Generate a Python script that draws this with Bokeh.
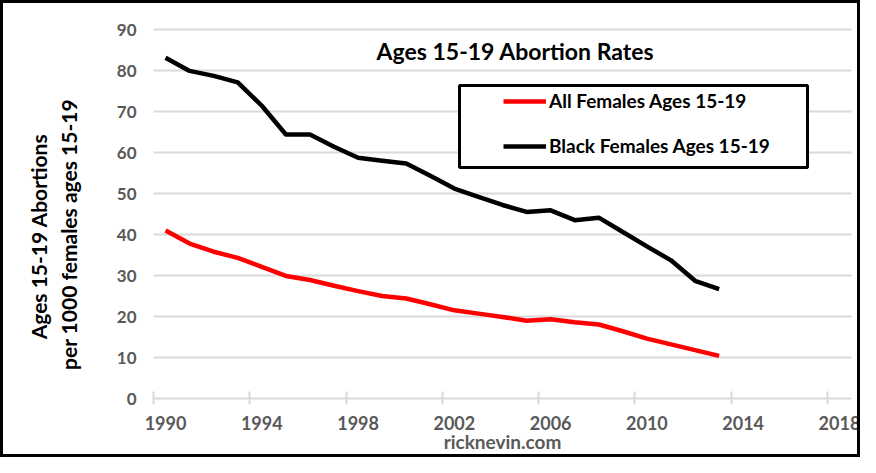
import math
from bokeh.plotting import figure
from bokeh.models import (Range1d, FixedTicker, Legend, Label, LegendItem,
                          BoxAnnotation, InlineStyleSheet)
from bokeh.embed import file_html
from bokeh.resources import INLINE

# ---- data ----
years = list(range(1990, 2014))
all_females = [41.0, 37.8, 35.8, 34.3, 32.1, 29.9, 28.9, 27.5, 26.2, 25.0,
               24.4, 23.0, 21.5, 20.7, 19.9, 18.95, 19.35, 18.6, 18.05, 16.4,
               14.6, 13.2, 11.8, 10.4]
black_females = [83.1, 79.9, 78.7, 77.1, 71.4, 64.4, 64.4, 61.4, 58.7, 58.0,
                 57.3, 54.3, 51.2, 49.2, 47.2, 45.5, 45.9, 43.5, 44.1, 40.6,
                 37.1, 33.7, 28.7, 26.7]
x_tick_years = [1990, 1994, 1998, 2002, 2006, 2010, 2014, 2018]
y_ticks = [0, 10, 20, 30, 40, 50, 60, 70, 80, 90]
series_names = ["All Females Ages 15-19", "Black Females Ages 15-19"]
title_text = "Ages 15-19 Abortion Rates"
y_label_lines = ["Ages 15-19 Abortions", "per 1000 females ages 15-19"]
x_label_text = "ricknevin.com"

FONT = "Lato"
GRAY = "#595959"
GRID = "#d9d9d9"

# ---- layout (pixels) ----
W, H = 860, 457
PL, PR, PT, PB = 153, 851, 29, 398      # plot-area edges inside the figure

x0, x1 = years[0] - 0.5, x_tick_years[-1] + 0.5   # category axis extent
y0, y1 = y_ticks[0], y_ticks[-1]
ppx = (PR - PL) / (x1 - x0)
ppy = (PB - PT) / (y1 - y0)

p = figure(width=W, height=H, output_backend="svg", toolbar_location=None,
           x_range=Range1d(x0 - PL / ppx, x1 + (W - PR) / ppx),
           y_range=Range1d(y0 - (H - PB) / ppy, y1 + PT / ppy),
           min_border=0, min_border_left=0, min_border_right=0,
           min_border_top=0, min_border_bottom=0)
p.outline_line_color = None
p.stylesheets = [InlineStyleSheet(css=(
    ":host{position:relative;}"
    ":host::after{content:'';position:absolute;left:0;top:0;right:0;bottom:0;"
    "border:3px solid black;box-sizing:border-box;pointer-events:none;z-index:50;}"))]

# horizontal gridlines limited to the plot area
p.xgrid.visible = False
p.ygrid.visible = False
p.segment(x0=[x0] * (len(y_ticks) - 1), x1=[x1] * (len(y_ticks) - 1),
          y0=y_ticks[1:], y1=y_ticks[1:], line_color=GRID, line_width=2,
          level="underlay")

# y axis fixed at the left edge of the plot area
ya = p.yaxis[0]
ya.fixed_location = x0
ya.ticker = FixedTicker(ticks=y_ticks)
ya.axis_line_color = None
ya.major_tick_line_color = None
ya.minor_tick_line_color = None
ya.major_tick_out = 0
ya.major_tick_in = 0
ya.major_label_standoff = 17
ya.major_label_text_font = FONT
ya.major_label_text_font_style = "bold"
ya.major_label_text_font_size = "17px"
ya.major_label_text_color = GRAY

# x axis at y=0: labels centred on years, tick marks on category boundaries
boundaries = [y - 0.5 for y in x_tick_years]
xa = p.xaxis[0]
xa.fixed_location = y0
xa.bounds = (x0, x1)
xa.ticker = FixedTicker(ticks=x_tick_years, minor_ticks=boundaries)
xa.axis_line_color = GRID
xa.axis_line_width = 2
xa.major_tick_line_color = None
xa.major_tick_in = 0
xa.major_tick_out = 0
xa.minor_tick_line_color = GRID
xa.minor_tick_line_width = 2
xa.minor_tick_in = 7
xa.minor_tick_out = 6
xa.major_label_standoff = 11
xa.major_label_text_font = FONT
xa.major_label_text_font_style = "bold"
xa.major_label_text_font_size = "18px"
xa.major_label_text_color = GRAY
xa.axis_label = x_label_text
xa.axis_label_text_font = FONT
xa.axis_label_text_font_style = "bold"
xa.axis_label_text_font_size = "19px"
xa.axis_label_text_color = GRAY
xa.axis_label_standoff = -3

# lines
r_all = p.line(years, all_females, line_color="#ff0000", line_width=4.5,
               line_join="round")
r_black = p.line(years, black_females, line_color="black", line_width=4.5,
                 line_join="round")

# y-axis title (two rotated lines)
for cx, cy, txt in zip([38, 68], [236, 234], y_label_lines):
    p.add_layout(Label(x=cx, y=H - cy, x_units="screen", y_units="screen",
                       text=txt, angle=math.pi / 2, text_font=FONT,
                       text_font_style="bold", text_font_size="21px",
                       text_color="black", text_align="center",
                       text_baseline="middle"))

# chart title inside plot area
p.add_layout(Label(x=515, y=H - 50, x_units="screen", y_units="screen",
                   text=title_text, text_font=FONT, text_font_style="bold",
                   text_font_size="23px", text_color="black",
                   text_align="center", text_baseline="middle"))

# legend frame
p.add_layout(BoxAnnotation(left=459, right=807, top=H - 85, bottom=H - 167,
                           left_units="screen", right_units="screen",
                           top_units="screen", bottom_units="screen",
                           fill_color="white", fill_alpha=1,
                           line_color="black", line_alpha=1, line_width=3))

legend = Legend(items=[LegendItem(label=series_names[0], renderers=[r_all]),
                       LegendItem(label=series_names[1], renderers=[r_black])],
                location=(503, H - 157), glyph_width=43, glyph_height=20,
                label_height=20, spacing=22, padding=0, margin=0,
                label_standoff=3, border_line_color=None,
                background_fill_alpha=0, label_text_font=FONT,
                label_text_font_style="bold", label_text_font_size="19px",
                label_text_color="black")
p.add_layout(legend)

open("out.html", "w").write(file_html(p, INLINE))
